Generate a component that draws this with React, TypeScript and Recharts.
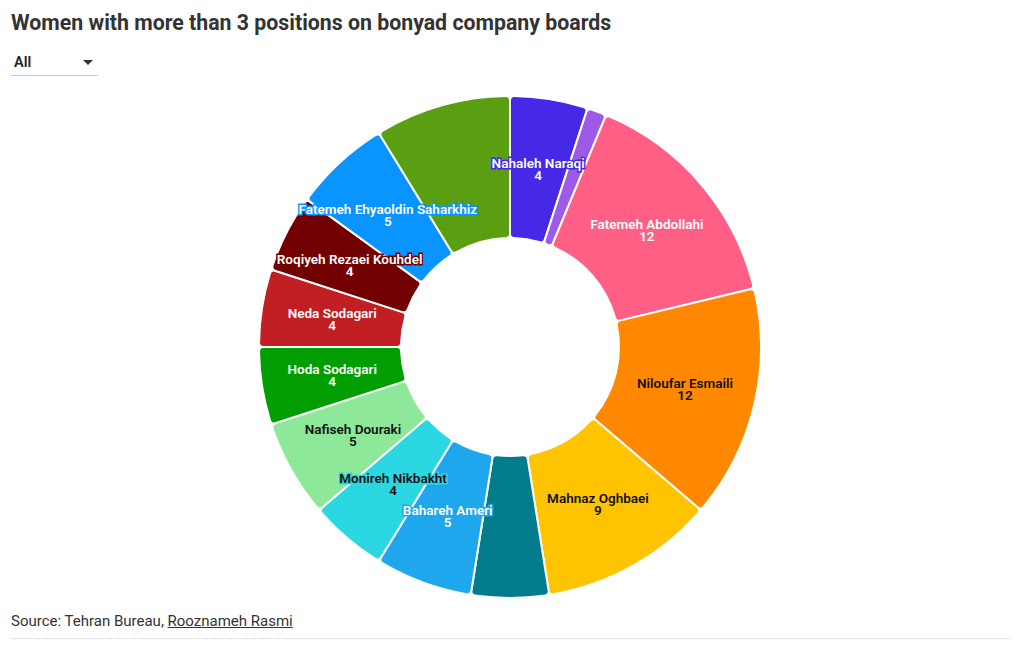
import { Cell, Pie, PieChart } from "recharts";

const names = [
  "Nahaleh Naraqi",
  "",
  "Fatemeh Abdollahi",
  "Niloufar Esmaili",
  "Mahnaz Oghbaei",
  "",
  "Bahareh Ameri",
  "Monireh Nikbakht",
  "Nafiseh Douraki",
  "Hoda Sodagari",
  "Neda Sodagari",
  "Roqiyeh Rezaei Kouhdel",
  "Fatemeh Ehyaoldin Saharkhiz",
  "",
];
const positions = [4, 1, 12, 12, 9, 4, 5, 4, 5, 4, 4, 4, 5, 7];

const COLORS = [
  "#4529e6",
  "#9d5ae6",
  "#ff5f85",
  "#ff8800",
  "#ffc300",
  "#007c8c",
  "#1ea7ec",
  "#2bd8e2",
  "#8de89a",
  "#009e00",
  "#c21f24",
  "#730000",
  "#0a94ff",
  "#5a9e12",
];

const data = names.map((name, i) => ({ name, value: positions[i] }));

const FONT = "Roboto, 'Noto Sans', sans-serif";

const isLight = (hex: string) => {
  const r = parseInt(hex.slice(1, 3), 16);
  const g = parseInt(hex.slice(3, 5), 16);
  const b = parseInt(hex.slice(5, 7), 16);
  return 0.299 * r + 0.587 * g + 0.114 * b > 150;
};

const renderLabel = (props: any) => {
  const { cx, cy, midAngle, innerRadius, outerRadius, name, value, index } = props;
  if (!name) return null;
  const r = (innerRadius + outerRadius) / 2;
  const rad = (Math.PI / 180) * midAngle;
  const x = cx + r * Math.cos(rad);
  const y = cy - r * Math.sin(rad);
  const fill = COLORS[index];
  const textFill = isLight(fill) ? "#111" : "#fff";
  return (
    <text
      x={x}
      y={y}
      textAnchor="middle"
      fontFamily={FONT}
      fontSize={13.5}
      fontWeight={600}
      fill={textFill}
      stroke={fill}
      strokeWidth={3}
      style={{ paintOrder: "stroke" }}
    >
      <tspan x={x} dy={-1}>
        {name}
      </tspan>
      <tspan x={x} dy={12}>
        {value}
      </tspan>
    </text>
  );
};

export default function App() {
  return (
    <div
      style={{
        position: "absolute",
        left: 0,
        top: 0,
        width: 1020,
        height: 650,
        background: "#fff",
        fontFamily: FONT,
        color: "#333",
      }}
    >
      <div
        style={{
          position: "absolute",
          left: 11,
          top: 10,
          fontSize: 21.3,
          fontWeight: 700,
          color: "#333",
        }}
      >
        Women with more than 3 positions on bonyad company boards
      </div>
      <div
        style={{
          position: "absolute",
          left: 11,
          top: 53,
          width: 87,
          height: 22,
          borderBottom: "1px solid #ccc",
          fontSize: 14.5,
          fontWeight: 600,
          color: "#222",
        }}
      >
        <span style={{ position: "absolute", left: 3, top: 1 }}>All</span>
        <svg
          width={10}
          height={6}
          style={{ position: "absolute", left: 72, top: 7 }}
        >
          <path d="M0 0 L10 0 L5 5 Z" fill="#333" />
        </svg>
      </div>
      <div style={{ position: "absolute", left: 0, top: 0 }}>
        <PieChart
          width={1020}
          height={610}
          margin={{ top: 0, right: 0, bottom: 0, left: 0 }}
        >
          <Pie
            data={data}
            dataKey="value"
            nameKey="name"
            cx={510}
            cy={347}
            innerRadius={109}
            outerRadius={251}
            startAngle={90}
            endAngle={-270}
            cornerRadius={4}
            stroke="#fff"
            strokeWidth={2}
            label={renderLabel}
            labelLine={false}
            isAnimationActive={false}
          >
            {data.map((d, i) => (
              <Cell key={i} fill={COLORS[i]} />
            ))}
          </Pie>
        </PieChart>
      </div>
      <div
        style={{
          position: "absolute",
          left: 11,
          top: 612,
          fontSize: 15,
          color: "#333",
        }}
      >
        Source: Tehran Bureau,{" "}
        <span style={{ textDecoration: "underline" }}>Rooznameh Rasmi</span>
      </div>
      <div
        style={{
          position: "absolute",
          left: 11,
          top: 638,
          width: 999,
          borderTop: "1px dotted #ccc",
        }}
      />
    </div>
  );
}
